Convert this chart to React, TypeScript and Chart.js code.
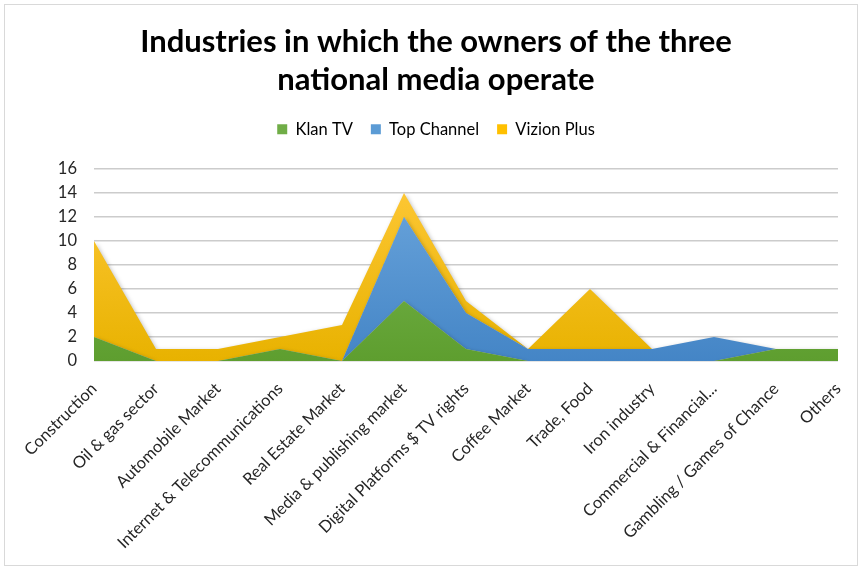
import React, { useEffect, useRef } from 'react';
import { Chart, registerables } from 'chart.js';
Chart.register(...registerables);

const categories = [
  'Construction',
  'Oil & gas sector',
  'Automobile Market',
  'Internet & Telecommunications',
  'Real Estate Market',
  'Media & publishing market',
  'Digital Platforms $ TV rights',
  'Coffee Market',
  'Trade, Food',
  'Iron industry',
  'Commercial & Financial...',
  'Gambling / Games of Chance',
  'Others',
];
const klanTV = [2, 0, 0, 1, 0, 5, 1, 0, 0, 0, 0, 1, 1];
const topChannel = [0, 0, 0, 0, 0, 7, 3, 1, 1, 1, 2, 0, 0];
const vizionPlus = [8, 1, 1, 1, 3, 2, 1, 0, 5, 0, 0, 0, 0];
const seriesNames = ['Klan TV', 'Top Channel', 'Vizion Plus'];
const titleLines = ['Industries in which the owners of the three', 'national media operate'];
const yMin = 0;
const yMax = 16;
const yStep = 2;

const solid = ['#70AD47', '#5B9BD5', '#FFC000'];
const tops = ['#7dbb55', '#6ea8de', '#ffc93a'];
const bottoms = ['#5e9e2f', '#4485c6', '#e8b200'];

function grad(i: number) {
  return (ctx: any) => {
    const chart = ctx.chart;
    const area = chart.chartArea;
    if (!area) return solid[i];
    const g = chart.ctx.createLinearGradient(0, area.top, 0, area.bottom);
    g.addColorStop(0, tops[i]);
    g.addColorStop(1, bottoms[i]);
    return g;
  };
}

const FONT = 'Lato, "Open Sans", sans-serif';

const legendGap = {
  id: 'legendGap',
  beforeLayout(chart: any) {
    const lg = chart.legend;
    if (lg && !lg.__patched) {
      const orig = lg.fit.bind(lg);
      lg.fit = function () {
        orig();
        this.height = 66;
      };
      lg.__patched = true;
    }
  },
};

const areaShadow = {
  id: 'areaShadow',
  beforeDatasetsDraw(chart: any) {
    const c = chart.ctx;
    c.save();
    c.shadowColor = 'rgba(0,0,0,0.25)';
    c.shadowBlur = 4;
    c.shadowOffsetX = 1.5;
    c.shadowOffsetY = 1.5;
  },
  afterDatasetsDraw(chart: any) {
    chart.ctx.restore();
  },
};

export default function App() {
  const ref = useRef<HTMLCanvasElement>(null);
  useEffect(() => {
    const data = [klanTV, topChannel, vizionPlus];
    const chart = new Chart(ref.current!, {
      type: 'line',
      data: {
        labels: categories,
        datasets: data.map((d, i) => ({
          label: seriesNames[i],
          data: d,
          fill: i === 0 ? 'origin' : '-1',
          backgroundColor: grad(i),
          borderWidth: 0,
          borderColor: 'rgba(0,0,0,0)',
          showLine: false,
          pointRadius: 0,
          tension: 0,
        })),
      },
      plugins: [legendGap, areaShadow],
      options: {
        animation: false,
        responsive: true,
        maintainAspectRatio: false,
        layout: { padding: { left: 34, right: 28, top: 0, bottom: 0 } },
        plugins: {
          title: {
            display: true,
            text: titleLines,
            color: '#000',
            font: { family: FONT, size: 31, weight: 'bold', lineHeight: 1.226 },
            padding: { top: 23, bottom: 4 },
          },
          legend: {
            display: true,
            position: 'top',
            labels: {
              color: '#262626',
              font: { family: FONT, size: 16.5 },
              boxWidth: 10,
              boxHeight: 10,
              padding: 18,
              generateLabels: () =>
                seriesNames.map((n, i) => ({
                  text: n,
                  fillStyle: solid[i],
                  strokeStyle: solid[i],
                  lineWidth: 0,
                  hidden: false,
                  datasetIndex: i,
                })),
            },
          },
          tooltip: { enabled: false },
        },
        scales: {
          x: {
            offset: false,
            grid: { display: false, drawTicks: false },
            border: { display: false },
            ticks: {
              autoSkip: false,
              maxRotation: 45,
              minRotation: 45,
              padding: 18,
              color: '#262626',
              font: { family: FONT, size: 16.5 },
            },
            afterFit: (s: any) => {
              s.height = 208;
              s.paddingLeft = 0;
              s.paddingRight = 0;
            },
          },
          y: {
            stacked: true,
            min: yMin,
            max: yMax,
            grid: { color: '#cccccc', lineWidth: 1.5, drawTicks: false },
            border: { display: false },
            ticks: {
              stepSize: yStep,
              padding: 17,
              color: '#262626',
              font: { family: FONT, size: 16.5 },
            },
            afterFit: (s: any) => {
              s.width = 60;
            },
          },
        },
      },
    });
    return () => chart.destroy();
  }, []);
  return (
    <div style={{ position: 'absolute', left: 0, top: 0, width: 866, height: 569, background: '#fff' }}>
      <div
        style={{
          position: 'absolute',
          left: 4,
          top: 4,
          width: 854,
          height: 562,
          border: '1px solid #d9d9d9',
          boxSizing: 'border-box',
        }}
      />
      <div style={{ position: 'absolute', left: 0, top: 0, width: 866, height: 569 }}>
        <canvas ref={ref} />
      </div>
    </div>
  );
}
